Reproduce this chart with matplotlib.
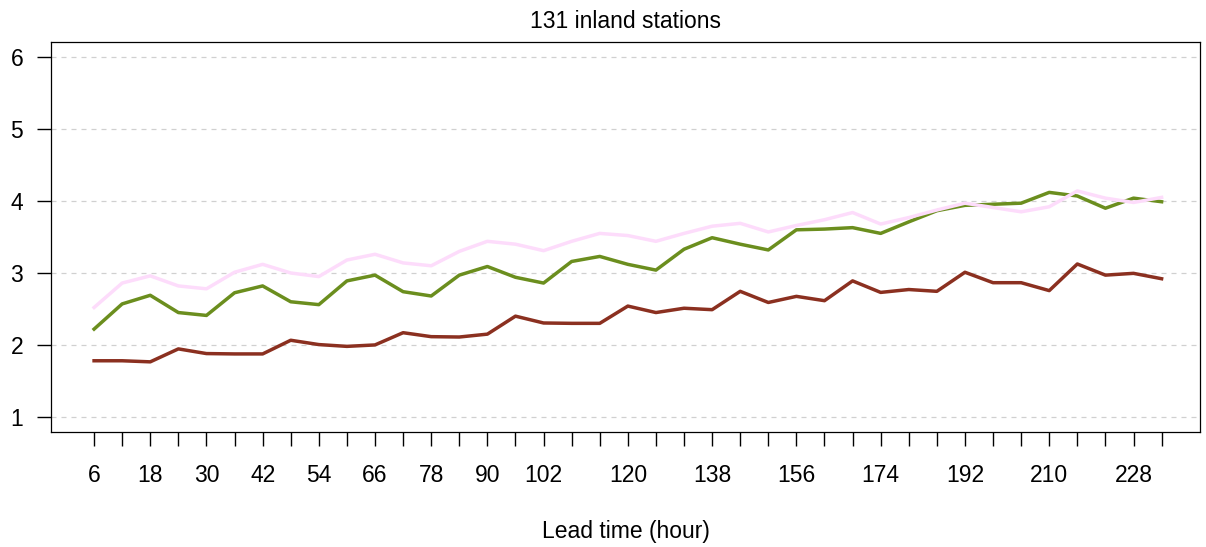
import numpy as np
import matplotlib
matplotlib.use("Agg")
import matplotlib.pyplot as plt

plt.rcParams["font.family"] = ["Liberation Sans", "DejaVu Sans"]

# lead time in hours
lead = np.arange(6, 235, 6)

red = [1.78, 1.78, 1.765, 1.945, 1.88, 1.875, 1.875, 2.065, 2.005, 1.98,
       2.0, 2.17, 2.115, 2.11, 2.15, 2.40, 2.305, 2.30, 2.30, 2.54,
       2.45, 2.51, 2.49, 2.745, 2.59, 2.675, 2.615, 2.89, 2.73, 2.77,
       2.745, 3.01, 2.865, 2.865, 2.755, 3.125, 2.97, 2.995, 2.92]
green = [2.22, 2.57, 2.69, 2.45, 2.41, 2.725, 2.82, 2.60, 2.56, 2.89,
         2.97, 2.74, 2.68, 2.97, 3.09, 2.94, 2.86, 3.16, 3.23, 3.12,
         3.04, 3.33, 3.49, 3.40, 3.32, 3.60, 3.61, 3.63, 3.55, 3.71,
         3.865, 3.94, 3.955, 3.97, 4.12, 4.07, 3.90, 4.04, 3.99]
pink = [2.52, 2.86, 2.96, 2.82, 2.78, 3.01, 3.12, 3.00, 2.95, 3.18,
        3.26, 3.14, 3.10, 3.30, 3.44, 3.40, 3.31, 3.44, 3.55, 3.52,
        3.44, 3.55, 3.65, 3.69, 3.57, 3.66, 3.74, 3.84, 3.68, 3.77,
        3.875, 3.97, 3.91, 3.85, 3.92, 4.14, 4.04, 3.98, 4.05]

shown = [6, 18, 30, 42, 54, 66, 78, 90, 102, 120, 138, 156, 174, 192, 210, 228]
tick_labels = [str(h) if h in shown else "" for h in lead]

fig = plt.figure(figsize=(12.06, 5.47), dpi=100)
ax = fig.add_axes([51 / 1206, 1 - 432 / 547, (1200 - 51) / 1206, (432 - 42) / 547])

ax.plot(lead, green, color="#6B8E1E", lw=2.5)
ax.plot(lead, red, color="#8B3020", lw=2.5)
ax.plot(lead, pink, color="#FDDCFB", lw=2.5)

for v in range(1, 7):
    ax.axhline(v, color="#d0d0d0", lw=0.9, ls=(0, (4, 4)), zorder=0)

ax.set_xlim(-3.2, 242.2)
ax.set_ylim(0.79, 6.21)
ax.set_xticks(lead)
ax.set_xticklabels(tick_labels, fontsize=16.5)
ax.set_yticks(range(1, 7))
ax.set_yticklabels([str(v) for v in range(1, 7)], fontsize=16.5)
ax.tick_params(axis="x", direction="out", length=10, width=1, pad=13)
ax.tick_params(axis="y", direction="out", length=10, width=1, pad=10)
for s in ax.spines.values():
    s.set_linewidth(0.9)

ax.set_title("131 inland stations", fontsize=16.5, pad=10)
ax.set_xlabel("Lead time (hour)", fontsize=16.5, labelpad=24)

fig.savefig("out.png", dpi=100)
